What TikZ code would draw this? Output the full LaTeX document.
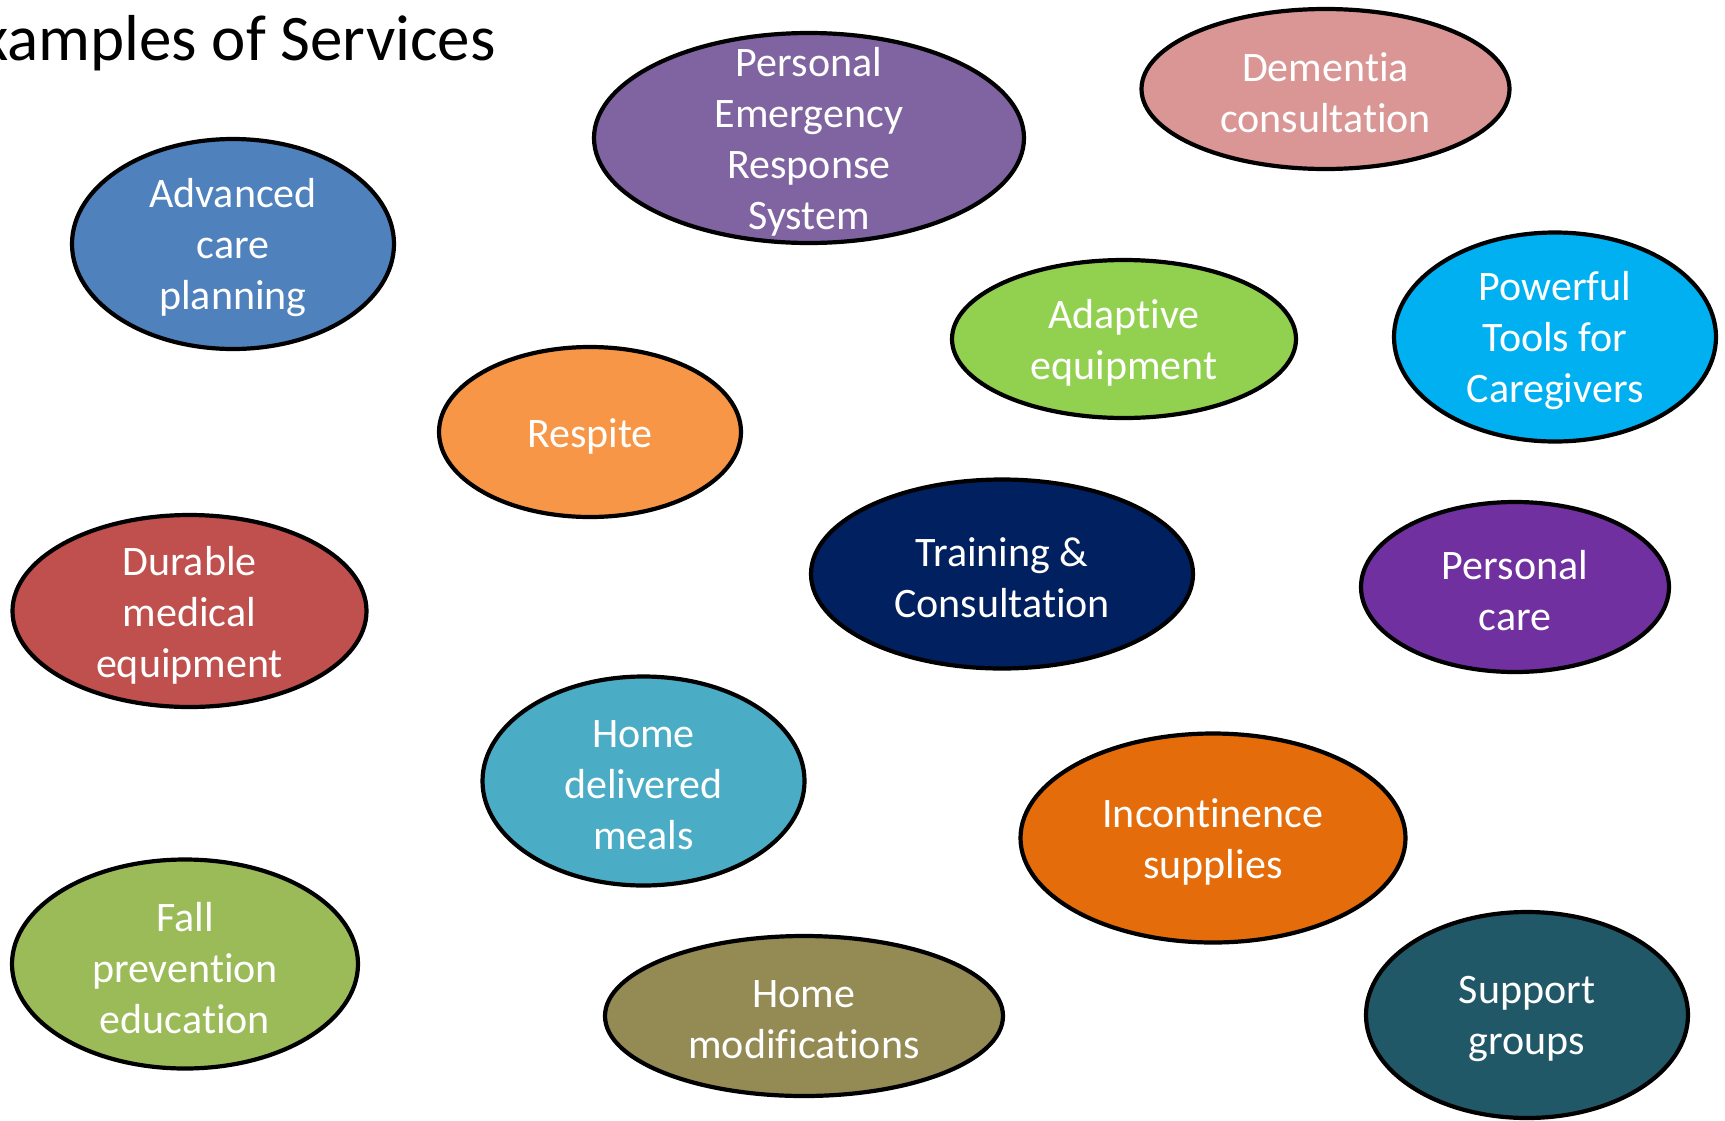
\documentclass[tikz,border=0pt]{standalone}
\usepackage{fontspec}
\setmainfont{Carlito}[Ligatures=NoCommon]
\usetikzlibrary{shapes.geometric}

\definecolor{cACP}{HTML}{4F81BD}
\definecolor{cPERS}{HTML}{8064A2}
\definecolor{cDEM}{HTML}{D99694}
\definecolor{cADP}{HTML}{92D050}
\definecolor{cPTC}{HTML}{00B0F0}
\definecolor{cRES}{HTML}{F79646}
\definecolor{cTRN}{HTML}{002060}
\definecolor{cPC}{HTML}{7030A0}
\definecolor{cDME}{HTML}{C0504D}
\definecolor{cHDM}{HTML}{4BACC6}
\definecolor{cINC}{HTML}{E46C0A}
\definecolor{cFPE}{HTML}{9BBB59}
\definecolor{cHMO}{HTML}{948A54}
\definecolor{cSUP}{HTML}{215868}

\tikzset{
  svc/.style={ellipse, draw=black, line width=4.2pt, inner sep=0pt},
  svctext/.style={text=white, align=center, inner sep=0pt,
    font=\fontsize{42}{51}\selectfont},
}

% svcoval{name}{x}{y}{rx}{ry}{colour}{text}
\newcommand{\svcoval}[7]{%
  \node[svc, fill=#6, minimum width=#4*2pt, minimum height=#5*2pt] (#1) at (#2,#3) {};
  \node[svctext] (#1-t) at ([yshift=-4pt]#1.center) {#7};
}

\begin{document}
\begin{tikzpicture}[x=1pt,y=-1pt]
  \useasboundingbox (0,0) rectangle (1725,1120);
  \clip (0,0) rectangle (1725,1120);

  \node[anchor=base east, inner sep=0pt, font=\fontsize{65}{76}\selectfont] (title)
    at (496,60) {Examples of Services};

  \svcoval{acp}{233}{244}{161}{105}{cACP}{Advanced\\care\\planning}
  \svcoval{pers}{809}{138}{215}{105}{cPERS}{Personal\\Emergency\\Response\\System}
  \svcoval{dem}{1325.5}{89}{184}{80}{cDEM}{Dementia\\consultation}
  \svcoval{adp}{1124}{339}{172}{79}{cADP}{Adaptive\\equipment}
  \svcoval{ptc}{1555}{337}{161}{104.5}{cPTC}{Powerful\\Tools for\\Caregivers}
  \svcoval{res}{590}{432}{151}{85}{cRES}{Respite}
  \svcoval{trn}{1002}{574}{191}{94.5}{cTRN}{Training \&\\Consultation}
  \svcoval{pc}{1515}{587}{154}{85}{cPC}{Personal\\care}
  \svcoval{dme}{189.5}{611}{177}{96}{cDME}{Durable\\medical\\equipment}
  \svcoval{hdm}{643.5}{781}{161}{104.5}{cHDM}{Home\\delivered\\meals}
  \svcoval{inc}{1213}{838}{192.5}{104.5}{cINC}{Incontinence\\supplies}
  \svcoval{fpe}{185}{964}{173}{104.5}{cFPE}{Fall\\prevention\\education}
  \svcoval{hmo}{804}{1016}{199}{80}{cHMO}{Home\\modifications}
  \svcoval{sup}{1527}{1015}{161}{103}{cSUP}{Support\\groups}
\end{tikzpicture}
\end{document}
